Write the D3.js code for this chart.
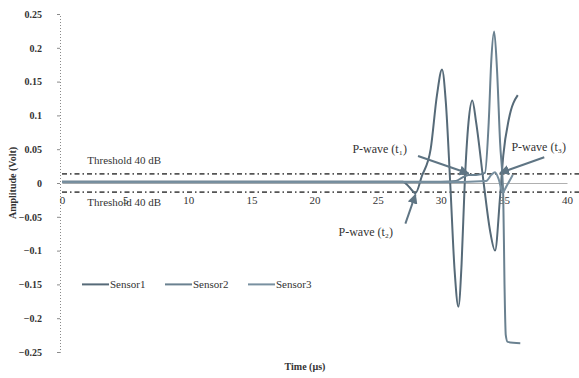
<!DOCTYPE html>
<html>
<head>
<meta charset="utf-8">
<script src="https://cdn.jsdelivr.net/npm/d3@7/dist/d3.min.js"></script>
<style>
  body { margin: 0; background: #fff; }
  svg text { font-family: "Liberation Serif", "DejaVu Serif", serif; }
</style>
</head>
<body>
<svg id="chart" width="579" height="378"></svg>
<script>
var WIDTH = 579, HEIGHT = 378;
var LINE_COLORS = ["#566a78", "#6a8190", "#7890a0"];

// data (time in us, amplitude in V)
var sensorNames = ["Sensor1", "Sensor2", "Sensor3"];
var sensor1 = [
  [0, 0.002], [5, 0.002], [10, 0.002], [15, 0.002], [20, 0.002], [25, 0.002],
  [27.0, 0.002], [27.5, -0.006], [28.0, -0.015], [28.5, 0.01], [29.2, 0.05],
  [29.7, 0.13], [30.1, 0.168], [30.4, 0.12], [30.75, 0.0], [31.1, -0.13],
  [31.4, -0.183], [31.65, -0.12], [31.9, 0.0], [32.2, 0.09], [32.5, 0.122],
  [32.8, 0.09], [33.4, 0.0], [33.9, -0.07], [34.3, -0.10], [34.7, -0.02],
  [34.95, 0.04], [35.4, 0.095], [36.1, 0.13]
];
var sensor2 = [
  [0, 0.002], [5, 0.002], [10, 0.002], [15, 0.002], [20, 0.002], [25, 0.002],
  [30, 0.002], [31.2, 0.003], [31.7, 0.008], [32.2, 0.012], [32.8, 0.012],
  [33.5, 0.015], [33.8, 0.09], [34.0, 0.18], [34.23, 0.224], [34.45, 0.17],
  [34.7, 0.06], [34.95, -0.02], [35.05, -0.15], [35.15, -0.225], [35.3, -0.235],
  [36.3, -0.237]
];
var sensor3 = [
  [0, 0.001], [5, 0.001], [10, 0.001], [15, 0.001], [20, 0.001], [25, 0.001],
  [30, 0.001], [33.6, 0.003], [34.0, 0.012], [34.3, 0.016], [34.6, 0.005],
  [34.9, -0.014], [35.2, -0.005], [35.7, 0.012]
];
var series = [sensor1, sensor2, sensor3];

var xTicks = [0, 5, 10, 15, 20, 25, 30, 35, 40];
var yTicks = [0.25, 0.2, 0.15, 0.1, 0.05, 0, -0.05, -0.1, -0.15, -0.2, -0.25];
var thresholds = [0.0135, -0.0135];
var thresholdLabel = "Threshold 40 dB";

// annotations: label, label anchor point [t, v], arrow start and tip [t, v]
var pwaveLabels = ["P-wave (t\u2081)", "P-wave (t\u2083)", "P-wave (t\u2082)"];
var pwaveText = [[23.0, 0.045], [35.6, 0.047], [21.9, -0.078]];
var pwaveFrom = [[28.2, 0.04], [38.2, 0.038], [27.2, -0.06]];
var pwaveTo = [[32.2, 0.014], [34.7, 0.015], [28.0, -0.017]];

var svg = d3.select("#chart");

var x = d3.scaleLinear().domain([0, 40]).range([62, 567]);
var y = d3.scaleLinear().domain([-0.25, 0.25]).range([352, 14]);

// y axis: dotted line with labels on the left
var yAxis = d3.axisLeft(y).tickValues(yTicks).tickSize(3)
  .tickFormat(function(d) { return d === 0 ? "0" : d3.format("")(+d.toFixed(2)); });
var gy = svg.append("g").attr("transform", "translate(60,0)").call(yAxis);
gy.select(".domain").attr("stroke", "#8a8a8a").attr("stroke-dasharray", "1,2");
gy.selectAll(".tick line").attr("stroke", "#8a8a8a");
gy.selectAll(".tick text")
  .attr("x", -18)
  .attr("fill", "#333")
  .style("font-size", "10px")
  .style("font-weight", "bold")
  .style("font-family", "Liberation Serif, serif");

// x axis sits at amplitude 0
var xAxis = d3.axisBottom(x).tickValues(xTicks).tickSize(0);
var gx = svg.append("g").attr("transform", "translate(0," + y(0) + ")").call(xAxis);
gx.select(".domain").attr("stroke", "#b0b0b0");
gx.selectAll(".tick text")
  .attr("y", 13)
  .attr("fill", "#333")
  .style("font-size", "11px")
  .style("font-family", "Liberation Serif, serif");

// threshold lines
svg.selectAll("line.thr").data(thresholds).enter().append("line")
  .attr("class", "thr")
  .attr("x1", x(0)).attr("x2", WIDTH)
  .attr("y1", function(d) { return y(d); })
  .attr("y2", function(d) { return y(d); })
  .attr("stroke", "#555")
  .attr("stroke-width", 1.6)
  .attr("stroke-dasharray", "5,3,1.5,3");

svg.selectAll("text.thr").data(thresholds).enter().append("text")
  .attr("class", "thr")
  .attr("x", x(2))
  .attr("y", function(d) { return d > 0 ? y(d) - 10 : y(d) + 14; })
  .attr("fill", "#333")
  .style("font-size", "11px")
  .text(thresholdLabel);

// sensor lines
var line = d3.line()
  .x(function(d) { return x(d[0]); })
  .y(function(d) { return y(d[1]); })
  .curve(d3.curveMonotoneX);

svg.selectAll("path.sensor").data(series).enter().append("path")
  .attr("class", "sensor")
  .attr("d", line)
  .attr("fill", "none")
  .attr("stroke", function(d, i) { return LINE_COLORS[i]; })
  .attr("stroke-width", 2);

// arrows
svg.append("defs").append("marker")
  .attr("id", "arrow")
  .attr("viewBox", "0 0 10 10")
  .attr("refX", 9).attr("refY", 5)
  .attr("markerWidth", 5).attr("markerHeight", 5)
  .attr("orient", "auto")
  .append("path")
  .attr("d", "M0,0 L10,5 L0,10 z")
  .attr("fill", "#5f7584");

svg.selectAll("line.arrow").data(pwaveFrom).enter().append("line")
  .attr("class", "arrow")
  .attr("x1", function(d) { return x(d[0]); })
  .attr("y1", function(d) { return y(d[1]); })
  .attr("x2", function(d, i) { return x(pwaveTo[i][0]); })
  .attr("y2", function(d, i) { return y(pwaveTo[i][1]); })
  .attr("stroke", "#5f7584")
  .attr("stroke-width", 2)
  .attr("marker-end", "url(#arrow)");

svg.selectAll("text.pwave").data(pwaveText).enter().append("text")
  .attr("class", "pwave")
  .attr("x", function(d) { return x(d[0]); })
  .attr("y", function(d) { return y(d[1]); })
  .attr("fill", "#333")
  .style("font-size", "12px")
  .text(function(d, i) { return pwaveLabels[i]; });

// legend
var legend = svg.append("g").attr("transform", "translate(82," + y(-0.15) + ")");
var items = legend.selectAll("g").data(sensorNames).enter().append("g")
  .attr("transform", function(d, i) { return "translate(" + (i * 83) + ",0)"; });
items.append("line")
  .attr("x1", 0).attr("x2", 27).attr("y1", 0).attr("y2", 0)
  .attr("stroke", function(d, i) { return LINE_COLORS[i]; })
  .attr("stroke-width", 2);
items.append("text")
  .attr("x", 28).attr("y", 4)
  .attr("fill", "#333")
  .style("font-size", "11px")
  .text(function(d) { return d; });

// axis titles
svg.append("text")
  .attr("transform", "translate(16," + y(0) + ") rotate(-90)")
  .attr("text-anchor", "middle")
  .attr("fill", "#333")
  .style("font-size", "10px")
  .style("font-weight", "bold")
  .text("Amplitude (Volt)");

svg.append("text")
  .attr("x", 305).attr("y", 370)
  .attr("text-anchor", "middle")
  .attr("fill", "#333")
  .style("font-size", "10px")
  .style("font-weight", "bold")
  .text("Time (\u00b5s)");
</script>
</body>
</html>
